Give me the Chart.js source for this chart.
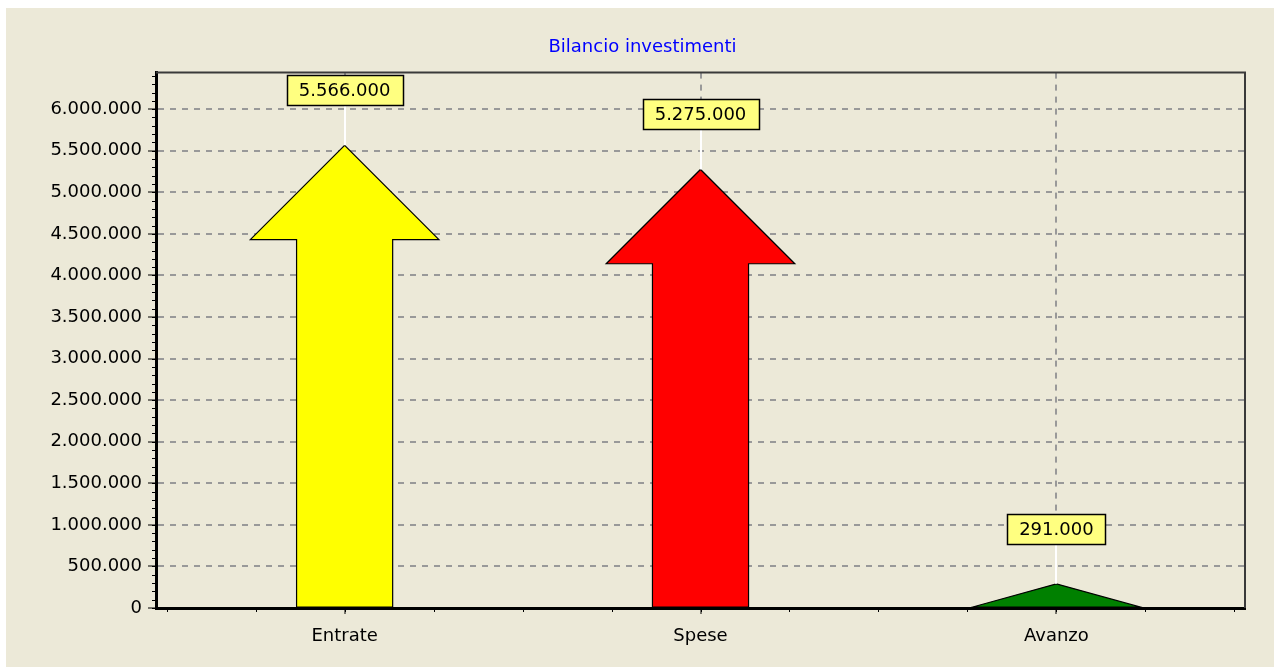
<!DOCTYPE html>
<html>
<head>
<meta charset="utf-8">
<title>Bilancio investimenti</title>
<script src="https://cdn.jsdelivr.net/npm/chart.js@4.4.1/dist/chart.umd.min.js"></script>
<style>
  html, body { margin: 0; padding: 0; background: #fff; }
  canvas { display: block; }
</style>
</head>
<body>
<canvas id="chart" width="1279" height="669"></canvas>
<script>
const categories = ["Entrate", "Spese", "Avanzo"];
const values = [5566000, 5275000, 291000];
const arrowColors = ["#FFFF00", "#FF0000", "#008000"];
const yTicks = [0, 500000, 1000000, 1500000, 2000000, 2500000, 3000000,
                3500000, 4000000, 4500000, 5000000, 5500000, 6000000];
const yMinorStep = 100000;
const yMax = 6440000;

const FONT = "DejaVu Sans";
const BG = "#ECE9D8";
const fmt = v => String(Math.round(v)).replace(/\B(?=(\d{3})+(?!\d))/g, ".");

// white page with the beige panel behind everything
const backdrop = {
  id: "backdrop",
  beforeDraw(chart) {
    const { ctx, width, height } = chart;
    ctx.save();
    ctx.fillStyle = "#fff";
    ctx.fillRect(0, 0, width, height);
    ctx.fillStyle = BG;
    ctx.fillRect(6, 8, width - 11, height - 10);
    ctx.restore();
  }
};

// draw each bar as an up arrow (TeeChart style)
const arrows = {
  id: "arrows",
  beforeDatasetDraw(chart, args) {
    const { ctx } = chart;
    const x = chart.scales.x;
    args.meta.data.forEach((el, i) => {
      const shaft = x.getPixelForValue(i + 0.135) - el.x;
      let head = x.getPixelForValue(i + 0.265) - el.x;
      const len = el.base - el.y;
      const neck = el.y + head;
      ctx.save();
      ctx.beginPath();
      if (len <= head) {
        head = x.getPixelForValue(i + 0.235) - el.x;
        ctx.moveTo(el.x - head, el.base);
        ctx.lineTo(el.x, el.y);
        ctx.lineTo(el.x + head, el.base);
      } else {
        ctx.moveTo(el.x - shaft, el.base);
        ctx.lineTo(el.x - shaft, neck);
        ctx.lineTo(el.x - head, neck);
        ctx.lineTo(el.x, el.y);
        ctx.lineTo(el.x + head, neck);
        ctx.lineTo(el.x + shaft, neck);
        ctx.lineTo(el.x + shaft, el.base);
      }
      ctx.closePath();
      ctx.fillStyle = el.options.backgroundColor;
      ctx.fill();
      ctx.lineWidth = 1.2;
      ctx.strokeStyle = "#000";
      ctx.stroke();
      ctx.restore();
    });
    return false;
  }
};

// frame, minor ticks and value marks
const extras = {
  id: "extras",
  afterDraw(chart) {
    const { ctx, chartArea: a } = chart;
    const x = chart.scales.x, y = chart.scales.y;
    ctx.save();

    ctx.strokeStyle = "#3a3a3a";
    ctx.lineWidth = 2;
    ctx.beginPath();
    ctx.moveTo(a.left, a.top);
    ctx.lineTo(a.right, a.top);
    ctx.lineTo(a.right, a.bottom);
    ctx.stroke();

    ctx.strokeStyle = "#000";
    ctx.lineWidth = 1;
    ctx.beginPath();
    for (let v = 0; v <= y.max; v += yMinorStep) {
      const py = Math.round(y.getPixelForValue(v)) + 0.5;
      ctx.moveTo(a.left - 4, py);
      ctx.lineTo(a.left, py);
    }
    for (let k = Math.ceil(x.min * 4); k <= x.max * 4; k++) {
      const px = Math.round(x.getPixelForValue(k / 4)) + 0.5;
      ctx.moveTo(px, a.bottom);
      ctx.lineTo(px, a.bottom + 4);
    }
    ctx.stroke();

    const meta = chart.getDatasetMeta(0);
    ctx.font = "18px '" + FONT + "'";
    ctx.textAlign = "center";
    ctx.textBaseline = "middle";
    meta.data.forEach((el, i) => {
      const text = fmt(values[i]);
      const w = ctx.measureText(text).width + 24;
      const h = 30;
      const bottom = el.y - 40;
      ctx.strokeStyle = "#fff";
      ctx.lineWidth = 2;
      ctx.beginPath();
      ctx.moveTo(Math.round(el.x), el.y);
      ctx.lineTo(Math.round(el.x), bottom);
      ctx.stroke();
      const bx = Math.round(el.x - w / 2) + 0.5, by = Math.round(bottom - h) + 0.5;
      ctx.fillStyle = "#FFFF80";
      ctx.fillRect(bx, by, Math.round(w), h);
      ctx.strokeStyle = "#000";
      ctx.lineWidth = 1.5;
      ctx.strokeRect(bx, by, Math.round(w), h);
      ctx.fillStyle = "#000";
      ctx.fillText(text, el.x, by + h / 2 + 1);
    });
    ctx.restore();
  }
};

new Chart(document.getElementById("chart"), {
  type: "bar",
  data: {
    datasets: [{
      data: categories.map((c, i) => ({ x: i, y: values[i] })),
      backgroundColor: arrowColors,
      borderWidth: 0
    }]
  },
  options: {
    responsive: false,
    animation: false,
    layout: { padding: { left: 6, right: 0, bottom: 2, top: 0 } },
    plugins: {
      legend: { display: false },
      tooltip: { enabled: false },
      title: {
        display: true,
        text: "Bilancio investimenti",
        color: "#0000FF",
        font: { family: FONT, size: 18, weight: "normal" },
        padding: { top: 37, bottom: 14 }
      }
    },
    scales: {
      x: {
        type: "linear",
        offset: false,
        min: -0.53,
        max: 2.53,
        afterFit(scale) { scale.height = 59; },
        afterBuildTicks(scale) { scale.ticks = categories.map((c, i) => ({ value: i })); },
        ticks: {
          autoSkip: false,
          maxRotation: 0,
          padding: 12,
          color: "#000",
          font: { family: FONT, size: 18 },
          callback: v => categories[v] ?? ""
        },
        grid: { offset: false, color: "#999", lineWidth: 2, tickLength: 6, tickColor: "#000", tickWidth: 1 },
        border: { display: true, color: "#000", width: 3, dash: [6, 6] }
      },
      y: {
        min: 0,
        max: yMax,
        afterFit(scale) { scale.width = 150; },
        afterBuildTicks(scale) { scale.ticks = yTicks.map(v => ({ value: v })); },
        ticks: {
          padding: 6,
          color: "#000",
          font: { family: FONT, size: 18 },
          callback: v => fmt(v)
        },
        grid: { color: "#999", lineWidth: 2, tickLength: 8, tickColor: "#000", tickWidth: 1 },
        border: { display: true, color: "#000", width: 3, dash: [6, 6] }
      },
      // empty right-hand axis, only reserves the right margin
      yRight: {
        position: "right",
        afterFit(scale) { scale.width = 34; },
        ticks: { display: false },
        grid: { display: false },
        border: { display: false }
      }
    }
  },
  plugins: [backdrop, arrows, extras]
});
</script>
</body>
</html>
